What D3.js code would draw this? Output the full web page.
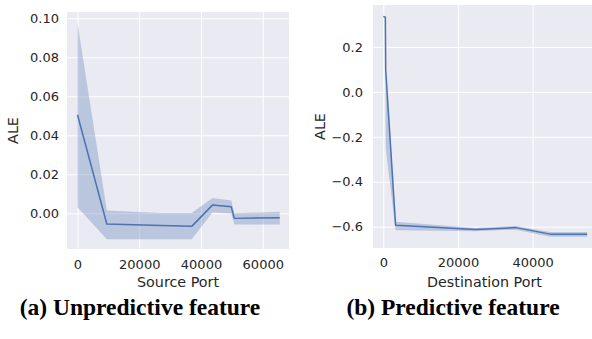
<!DOCTYPE html>
<html>
<head>
<meta charset="utf-8">
<script src="https://cdn.jsdelivr.net/npm/d3@7"></script>
<style>
  html, body { margin: 0; padding: 0; background: #fff; }
  svg { display: block; }
  .tick text { font-family: "DejaVu Sans", sans-serif; font-size: 13px; fill: #262626; }
  .axlabel { font-family: "DejaVu Sans", sans-serif; font-size: 14.3px; fill: #262626; }
  .caption { font-family: "Liberation Serif", "Times New Roman", serif; font-weight: bold; font-size: 23.5px; fill: #000; }
</style>
</head>
<body>
<svg id="chart" width="592" height="339"></svg>
<script>
// ---- Data: (a) Source Port ----
const srcX     = [0, 9500, 27000, 37000, 43700, 49800, 50800, 65500];
const srcALE   = [0.0505, -0.0055, -0.0063, -0.0067, 0.0042, 0.0033, -0.0026, -0.0023];
const srcUpper = [0.0975, 0.0014, 0.0002, 0.0002, 0.0079, 0.0066, 0.0000, 0.0008];
const srcLower = [0.0031, -0.0133, -0.0133, -0.0133, 0.0004, -0.0001, -0.0058, -0.0058];
const srcXTicks = [0, 20000, 40000, 60000];
const srcYTicks = [0.00, 0.02, 0.04, 0.06, 0.08, 0.10];

// ---- Data: (b) Destination Port ----
const dstX     = [0, 550, 650, 3300, 24650, 35500, 44700, 54600];
const dstALE   = [0.336, 0.332, 0.096, -0.594, -0.612, -0.604, -0.633, -0.633];
const dstUpper = [0.336, 0.332, 0.110, -0.578, -0.606, -0.597, -0.624, -0.624];
const dstLower = [0.336, 0.332, -0.250, -0.616, -0.620, -0.613, -0.645, -0.645];
const dstXTicks = [0, 20000, 40000];
const dstYTicks = [-0.6, -0.4, -0.2, 0.0, 0.2];

const captions = ["(a) Unpredictive feature", "(b) Predictive feature"];
const xLabels = ["Source Port", "Destination Port"];

const svg = d3.select("#chart");
const COLOR = "#4c72b0";

function panel(cfg) {
  const g = svg.append("g").attr("transform", `translate(${cfg.left},${cfg.top})`);
  const w = cfg.width, h = cfg.height;
  const x = d3.scaleLinear().domain(cfg.xDomain).range([0, w]);
  const y = d3.scaleLinear().domain(cfg.yDomain).range([h, 0]);

  g.append("rect").attr("width", w).attr("height", h).attr("fill", "#eaeaf2");

  const yAxis = g.append("g")
    .call(d3.axisLeft(y).tickValues(cfg.yTicks).tickFormat(d3.format(cfg.yFmt)).tickSize(-w).tickPadding(cfg.yPad));
  yAxis.select(".domain").remove();
  yAxis.selectAll(".tick line").attr("stroke", "#fff").attr("stroke-width", 1);

  const xAxis = g.append("g").attr("transform", `translate(0,${h})`)
    .call(d3.axisBottom(x).tickValues(cfg.xTicks).tickFormat(d3.format("d")).tickSize(-h).tickPadding(cfg.xPad));
  xAxis.select(".domain").remove();
  xAxis.selectAll(".tick line").attr("stroke", "#fff").attr("stroke-width", 1);

  const idx = d3.range(cfg.xs.length);
  const area = d3.area()
    .x(i => x(cfg.xs[i]))
    .y0(i => y(cfg.lower[i]))
    .y1(i => y(cfg.upper[i]));
  g.append("path").datum(idx).attr("d", area)
    .attr("fill", COLOR).attr("fill-opacity", 0.3).attr("stroke", "none");

  const line = d3.line().x(i => x(cfg.xs[i])).y(i => y(cfg.ys[i]));
  g.append("path").datum(idx).attr("d", line)
    .attr("fill", "none").attr("stroke", COLOR).attr("stroke-width", 1.5)
    .attr("stroke-linejoin", "round");

  g.append("text").attr("class", "axlabel")
    .attr("text-anchor", "middle")
    .attr("transform", `translate(${cfg.yLabelX},${h / 2}) rotate(-90)`)
    .text("ALE");

  g.append("text").attr("class", "axlabel")
    .attr("text-anchor", "middle")
    .attr("x", w / 2).attr("y", h + cfg.xLabelDy)
    .text(cfg.xLabel);
}

panel({
  left: 67, top: 12, width: 222, height: 237,
  xDomain: [-3400, 68500], yDomain: [-0.0183, 0.1032],
  xs: srcX, ys: srcALE, upper: srcUpper, lower: srcLower,
  xTicks: srcXTicks, yTicks: srcYTicks, yFmt: ".2f",
  yPad: 8, xPad: 11, yLabelX: -49, xLabelDy: 38, xLabel: xLabels[0]
});

panel({
  left: 373, top: 5, width: 223, height: 243,
  xDomain: [-2756, 56970], yDomain: [-0.6947, 0.3867],
  xs: dstX, ys: dstALE, upper: dstUpper, lower: dstLower,
  xTicks: dstXTicks, yTicks: dstYTicks, yFmt: ".1f",
  yPad: 10, xPad: 10, yLabelX: -48, xLabelDy: 38.5, xLabel: xLabels[1]
});

svg.append("text").attr("class", "caption").attr("text-anchor", "middle")
  .attr("x", 140).attr("y", 315).text(captions[0]);
svg.append("text").attr("class", "caption").attr("text-anchor", "middle")
  .attr("x", 453).attr("y", 315).text(captions[1]);
</script>
</body>
</html>
